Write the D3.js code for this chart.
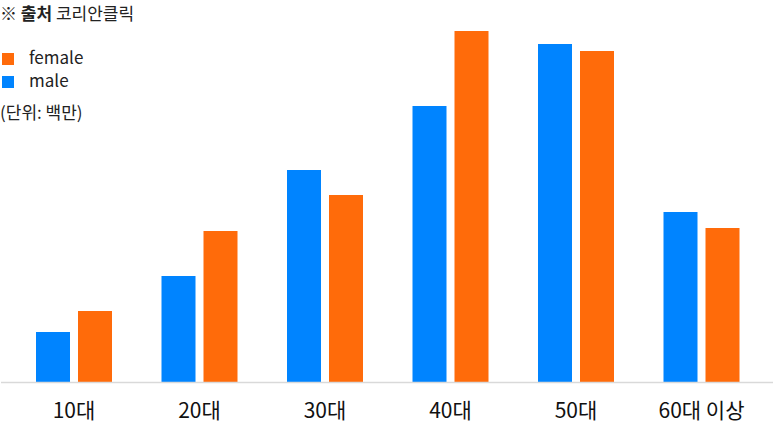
<!DOCTYPE html>
<html><head><meta charset="utf-8">
<script src="https://cdn.jsdelivr.net/npm/d3@7"></script>
<style>
body{margin:0;background:#fff;}
svg text{font-family:"Noto Sans CJK KR","Noto Sans",sans-serif;}
</style></head>
<body>
<svg id="chart" width="774" height="422"></svg>
<script>
const categories = ["10대","20대","30대","40대","50대","60대 이상"];
const series = ["male","female"];
const legendOrder = ["female","male"];
const maleValues = [1.00, 2.12, 4.24, 5.52, 6.76, 3.40];
const femaleValues = [1.42, 3.02, 3.74, 7.02, 6.62, 3.08];
const colors = {male:"#0084ff", female:"#ff6b0a"};

const svg = d3.select("#chart");
const baseY = 382;

const x = d3.scaleBand().domain(categories).range([11.25, 764.25]).paddingInner(0).paddingOuter(0);
const y = d3.scaleLinear().domain([0, 7.02]).range([baseY, 31]);
const sub = d3.scaleBand().domain(series).range([0, 76]).paddingInner(8/42).paddingOuter(0);

const data = categories.map((c,i)=>({cat:c, male:maleValues[i], female:femaleValues[i]}));

const groups = svg.append("g").selectAll("g.grp").data(data).join("g")
  .attr("transform", d => `translate(${x(d.cat) + x.bandwidth()/2 - 38},0)`);
groups.selectAll("rect").data(d => series.map(s => ({s, v:d[s]}))).join("rect")
  .attr("x", d => sub(d.s))
  .attr("width", sub.bandwidth())
  .attr("y", d => y(d.v))
  .attr("height", d => baseY - y(d.v))
  .attr("fill", d => colors[d.s]);

svg.append("line").attr("x1",1).attr("x2",773).attr("y1",baseY+0.5).attr("y2",baseY+0.5)
  .attr("stroke","#d9d9d9").attr("stroke-width",1.5);

const ax = svg.append("g").attr("transform",`translate(0,${baseY})`).call(d3.axisBottom(x).tickSize(0).tickPadding(0));
ax.select(".domain").remove();
ax.selectAll("text").attr("dy",null).attr("y",35.5).attr("font-size",21).attr("fill","#111")
  .style("font-family",'"Noto Sans CJK KR",sans-serif');

const src = svg.append("text").attr("x",0).attr("y",19.5).attr("font-size",17).attr("fill","#222");
src.append("tspan").text("※ ");
src.append("tspan").attr("font-weight","bold").text("출처");
src.append("tspan").text(" 코리안클릭");

const lg = svg.append("g").selectAll("g").data(legendOrder).join("g")
  .attr("transform",(d,i)=>`translate(2,${53+i*23})`);
lg.append("rect").attr("width",12).attr("height",12).attr("fill",d=>colors[d]);
lg.append("text").attr("x",27).attr("y",11).attr("font-size",17).attr("fill","#222").text(d=>d);

svg.append("text").attr("x",0).attr("y",119).attr("font-size",17).attr("fill","#222").text("(단위: 백만)");
</script>
</body></html>
